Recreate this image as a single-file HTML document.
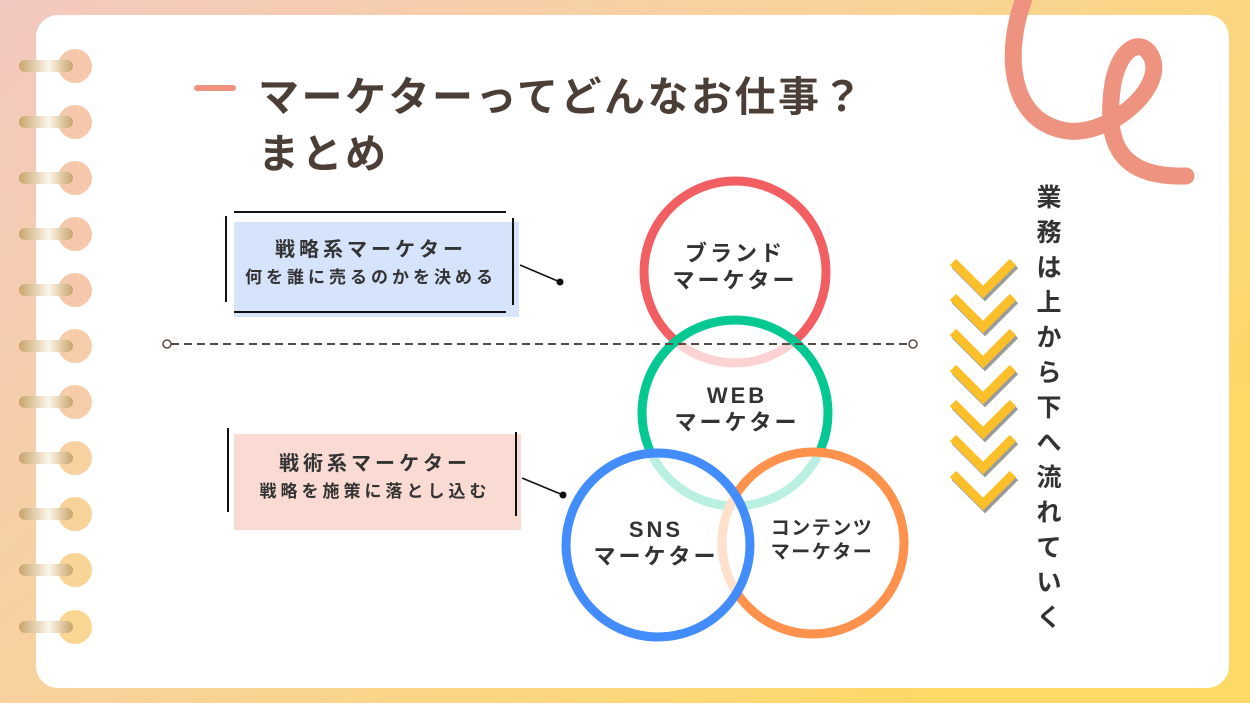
<!DOCTYPE html>
<html><head><meta charset="utf-8"><style>
body{margin:0;width:1250px;height:703px;overflow:hidden;font-family:"Liberation Sans","Noto Sans CJK JP",sans-serif;}
</style></head><body>
<svg width="1250" height="703" viewBox="0 0 1250 703" xmlns="http://www.w3.org/2000/svg" font-family="'Liberation Sans','Noto Sans CJK JP',sans-serif">
<defs>
<linearGradient id="bg" x1="0" y1="0" x2="1" y2="0.6">
<stop offset="0" stop-color="#f3c8c0"/><stop offset="0.5" stop-color="#f8d39a"/><stop offset="1" stop-color="#fdd966"/></linearGradient>
<linearGradient id="gold" x1="0" y1="0" x2="1" y2="0">
<stop offset="0" stop-color="#c9a46a"/><stop offset="0.55" stop-color="#fbf6ea"/><stop offset="1" stop-color="#c9a46a"/></linearGradient>
</defs>
<rect width="1250" height="703" fill="url(#bg)"/>
<rect x="36" y="15" width="1193" height="673" rx="22" fill="#fff"/>
<g id="rings">
<g transform="translate(0,66)"><circle cx="75" cy="0" r="17" fill="#f5c8ac"/><rect x="19" y="-6" width="54" height="12" rx="6" fill="url(#gold)"/></g>
<g transform="translate(0,122)"><circle cx="75" cy="0" r="17" fill="#f5c8ac"/><rect x="19" y="-6" width="54" height="12" rx="6" fill="url(#gold)"/></g>
<g transform="translate(0,178)"><circle cx="75" cy="0" r="17" fill="#f5c8ac"/><rect x="19" y="-6" width="54" height="12" rx="6" fill="url(#gold)"/></g>
<g transform="translate(0,234)"><circle cx="75" cy="0" r="17" fill="#f5c8ac"/><rect x="19" y="-6" width="54" height="12" rx="6" fill="url(#gold)"/></g>
<g transform="translate(0,290)"><circle cx="75" cy="0" r="17" fill="#f5c8ac"/><rect x="19" y="-6" width="54" height="12" rx="6" fill="url(#gold)"/></g>
<g transform="translate(0,346)"><circle cx="75" cy="0" r="17" fill="#f6cda8"/><rect x="19" y="-6" width="54" height="12" rx="6" fill="url(#gold)"/></g>
<g transform="translate(0,402)"><circle cx="75" cy="0" r="17" fill="#f6cda8"/><rect x="19" y="-6" width="54" height="12" rx="6" fill="url(#gold)"/></g>
<g transform="translate(0,458)"><circle cx="75" cy="0" r="17" fill="#f7d1a0"/><rect x="19" y="-6" width="54" height="12" rx="6" fill="url(#gold)"/></g>
<g transform="translate(0,514)"><circle cx="75" cy="0" r="17" fill="#f7d39a"/><rect x="19" y="-6" width="54" height="12" rx="6" fill="url(#gold)"/></g>
<g transform="translate(0,570)"><circle cx="75" cy="0" r="17" fill="#f8d596"/><rect x="19" y="-6" width="54" height="12" rx="6" fill="url(#gold)"/></g>
<g transform="translate(0,627)"><circle cx="75" cy="0" r="17" fill="#f9d792"/><rect x="19" y="-6" width="54" height="12" rx="6" fill="url(#gold)"/></g>
</g>
<path d="M1025,-4 C1004,50 1008,118 1062,130 C1105,140 1165,90 1152,58 C1142,35 1117,48 1112,90 C1107,135 1112,178 1186,176" fill="none" stroke="#ef9381" stroke-width="17" stroke-linecap="round"/>
<line x1="197" y1="88" x2="233" y2="88" stroke="#ef9381" stroke-width="6" stroke-linecap="round"/>
<text x="258" y="111" font-size="41" font-weight="bold" fill="#4b3e37" letter-spacing="2.5">マーケターってどんなお仕事？</text>
<text x="258" y="168" font-size="41" font-weight="bold" fill="#4b3e37" letter-spacing="2.5">まとめ</text>
<!-- strategic box -->
<rect x="234" y="222" width="285" height="95" fill="#d5e3fb"/>
<line x1="234" y1="212" x2="506" y2="212" stroke="#111" stroke-width="2"/>
<line x1="234" y1="312" x2="506" y2="312" stroke="#111" stroke-width="2"/>
<line x1="226" y1="216" x2="226" y2="302" stroke="#111" stroke-width="2"/>
<line x1="513" y1="218" x2="513" y2="305" stroke="#111" stroke-width="2"/>
<text x="371" y="256" font-size="20" font-weight="bold" fill="#333" text-anchor="middle" letter-spacing="4">戦略系マーケター</text>
<text x="371" y="283" font-size="17" font-weight="bold" fill="#333" text-anchor="middle" letter-spacing="4">何を誰に売るのかを決める</text>
<line x1="520" y1="265" x2="560" y2="282" stroke="#111" stroke-width="1.5"/><circle cx="560" cy="282" r="3.5" fill="#111"/>
<!-- tactical box -->
<rect x="234" y="434" width="287" height="96" fill="#f9dbd3"/>
<line x1="228" y1="428" x2="228" y2="512" stroke="#111" stroke-width="2"/>
<line x1="516" y1="432" x2="516" y2="516" stroke="#111" stroke-width="2"/>
<text x="375" y="470" font-size="20" font-weight="bold" fill="#333" text-anchor="middle" letter-spacing="4">戦術系マーケター</text>
<text x="375" y="497" font-size="17" font-weight="bold" fill="#333" text-anchor="middle" letter-spacing="4">戦略を施策に落とし込む</text>
<line x1="522" y1="478" x2="563" y2="495" stroke="#111" stroke-width="1.5"/><circle cx="563" cy="495" r="3.5" fill="#111"/>
<!-- circles -->
<circle cx="735" cy="272" r="91" fill="none" stroke="#f25f63" stroke-width="9"/>
<circle cx="735" cy="413" r="93" fill="rgba(255,255,255,0.72)" stroke="#05c893" stroke-width="9"/>
<circle cx="813" cy="543" r="91" fill="rgba(255,255,255,0.72)" stroke="#fe914c" stroke-width="9"/>
<circle cx="658" cy="545" r="92" fill="rgba(255,255,255,0.72)" stroke="#438cfb" stroke-width="9"/>
<!-- dashed -->
<line x1="171" y1="344" x2="909" y2="344" stroke="#5a4a42" stroke-width="2" stroke-dasharray="8,5"/>
<circle cx="167" cy="344" r="4" fill="#fff" stroke="#5a4a42" stroke-width="1.5"/>
<circle cx="913" cy="344" r="4" fill="#fff" stroke="#5a4a42" stroke-width="1.5"/>
<g font-weight="bold" fill="#333" text-anchor="middle">
<text x="735" y="261" font-size="22" letter-spacing="3">ブランド</text>
<text x="735" y="288" font-size="22" letter-spacing="3">マーケター</text>
<text x="737" y="403" font-size="22" letter-spacing="3">WEB</text>
<text x="737" y="430" font-size="22" letter-spacing="3">マーケター</text>
<text x="656" y="537" font-size="22" letter-spacing="3">SNS</text>
<text x="656" y="564" font-size="22" letter-spacing="3">マーケター</text>
<text x="822" y="534" font-size="19" letter-spacing="1.5">コンテンツ</text>
<text x="822" y="558" font-size="19" letter-spacing="1.5">マーケター</text>
</g>
<!-- chevrons -->
<g fill="none" stroke-width="9" stroke-linejoin="miter">
<g transform="translate(0,0)"><path d="M953,262 L983,292 L1013,262" stroke="#9b9b9b" transform="translate(2,3)"/><path d="M953,262 L983,292 L1013,262" stroke="#fbbf2a"/></g>
<g transform="translate(0,35)"><path d="M953,262 L983,292 L1013,262" stroke="#9b9b9b" transform="translate(2,3)"/><path d="M953,262 L983,292 L1013,262" stroke="#fbbf2a"/></g>
<g transform="translate(0,70)"><path d="M953,262 L983,292 L1013,262" stroke="#9b9b9b" transform="translate(2,3)"/><path d="M953,262 L983,292 L1013,262" stroke="#fbbf2a"/></g>
<g transform="translate(0,106)"><path d="M953,262 L983,292 L1013,262" stroke="#9b9b9b" transform="translate(2,3)"/><path d="M953,262 L983,292 L1013,262" stroke="#fbbf2a"/></g>
<g transform="translate(0,141)"><path d="M953,262 L983,292 L1013,262" stroke="#9b9b9b" transform="translate(2,3)"/><path d="M953,262 L983,292 L1013,262" stroke="#fbbf2a"/></g>
<g transform="translate(0,176)"><path d="M953,262 L983,292 L1013,262" stroke="#9b9b9b" transform="translate(2,3)"/><path d="M953,262 L983,292 L1013,262" stroke="#fbbf2a"/></g>
<g transform="translate(0,212)"><path d="M953,262 L983,292 L1013,262" stroke="#9b9b9b" transform="translate(2,3)"/><path d="M953,262 L983,292 L1013,262" stroke="#fbbf2a"/></g>
</g>
<g font-size="25" font-weight="bold" fill="#333" text-anchor="middle">
<text x="1049" y="206">業</text><text x="1049" y="241">務</text><text x="1049" y="276">は</text><text x="1049" y="311">上</text><text x="1049" y="346">か</text><text x="1049" y="381">ら</text><text x="1049" y="416">下</text><text x="1049" y="451">へ</text><text x="1049" y="486">流</text><text x="1049" y="521">れ</text><text x="1049" y="556">て</text><text x="1049" y="591">い</text><text x="1049" y="626">く</text>
</g>
</svg>
</body></html>
